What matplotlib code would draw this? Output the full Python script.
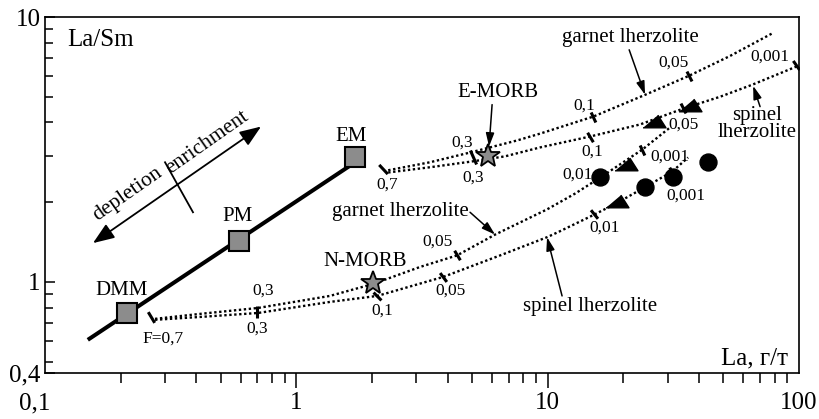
import matplotlib
matplotlib.use("Agg")
import matplotlib.pyplot as plt
import matplotlib.transforms as mtransforms
from matplotlib.ticker import FixedLocator, FixedFormatter, NullFormatter

plt.rcParams['font.family'] = ['Liberation Serif', 'DejaVu Serif']

# mantle reservoirs (La, La/Sm)
mantle_names = ["DMM", "PM", "EM"]
mantle_la = [0.212, 0.592, 1.713]
mantle_ratio = [0.765, 1.426, 2.95]
trend_la = [0.148, 1.666]
trend_ratio = [0.605, 2.78]

# MORB types
morb_names = ["E-MORB", "N-MORB"]
morb_la = [5.79, 2.02]
morb_ratio = [2.98, 0.995]

# samples
circle_la = [16.2, 24.4, 31.6, 43.5]
circle_ratio = [2.48, 2.28, 2.48, 2.83]
triangle_la = [26.5, 36.9, 20.5, 18.9]
triangle_ratio = [4.06, 4.67, 2.78, 2.02]

# melting curves, E-MORB-like source
grt_upper_la = [2.32, 3.40, 4.91, 7.55, 9.33, 15.2, 24.0, 36.5, 53.2, 78.9]
grt_upper_ratio = [2.64, 2.83, 3.08, 3.42, 3.63, 4.21, 5.05, 6.00, 7.13, 8.71]
spl_upper_la = [2.32, 3.40, 5.00, 6.77, 9.33, 14.75, 23.3, 34.6, 48.5, 65.1, 99.2]
spl_upper_ratio = [2.59, 2.71, 2.85, 2.98, 3.22, 3.54, 3.93, 4.51, 5.00, 5.55, 6.54]

# melting curves, DMM source
grt_lower_la = [0.274, 0.414, 0.704, 1.36, 2.02, 3.11, 4.36, 6.18, 9.95, 12.9, 16.2, 23.8, 30.7]
grt_lower_ratio = [0.726, 0.758, 0.798, 0.886, 0.983, 1.14, 1.26, 1.51, 1.88, 2.16, 2.48, 3.16, 3.83]
spl_lower_la = [0.274, 0.414, 0.704, 1.36, 2.10, 3.84, 6.47, 9.95, 11.2, 15.4, 19.1, 24.4, 31.3, 36.2]
spl_lower_ratio = [0.720, 0.738, 0.764, 0.841, 0.886, 1.045, 1.26, 1.476, 1.555, 1.80, 2.00, 2.28, 2.61, 2.95]

# degree-of-melting marks on the curves
mark_la = [2.21, 5.05, 15.2, 36.5, 14.75, 34.6, 97.4, 0.264, 0.698, 2.10, 4.36, 3.84, 15.3, 23.8, 31.3]
mark_ratio = [2.66, 2.95, 4.21, 6.00, 3.54, 4.55, 6.60, 0.738, 0.771, 0.886, 1.26, 1.045, 1.80, 3.16, 2.61]
mark_rot = [43, 24, 25, 27, 31, 27, 35, 31, 0, 45, 31, 37, 39, 25, 30]
mark_len = [9, 11, 8, 8, 8, 8, 8, 9, 9, 8, 8, 8, 8, 8, 8]

# labels of the marks
f_text = ["0,7", "0,3", "0,3", "0,1", "0,05", "0,001", "0,05", "0,1", "0,001", "0,01",
          "0,001", "0,01", "F=0,7", "0,3", "0,3", "0,1", "0,05", "0,05"]
f_la = [2.30, 4.57, 5.05, 13.96, 31.6, 76.7, 34.6, 15.0, 30.7, 13.2,
        35.5, 16.9, 0.295, 0.737, 0.698, 2.19, 3.63, 4.09]
f_ratio = [2.335, 3.36, 2.48, 4.63, 6.72, 7.07, 3.93, 3.11, 2.98, 2.55,
           2.12, 1.61, 0.6105, 0.925, 0.666, 0.778, 1.414, 0.925]

gray = "#8c8c8c"
dots = dict(color="k", lw=1.7, linestyle=(0, (1, 1.1)), dash_capstyle="butt", zorder=2)

fig = plt.figure(figsize=(8.19, 4.19), dpi=100)
ax = fig.add_axes([45 / 819, 46 / 419, 754 / 819, 356 / 419])
ax.set_xscale("log")
ax.set_yscale("log")
ax.set_xlim(0.1, 100)
ax.set_ylim(0.4535, 10)

for s in ax.spines.values():
    s.set_linewidth(1.2)

ax.xaxis.set_major_locator(FixedLocator([0.1, 1, 10, 100]))
ax.xaxis.set_major_formatter(FixedFormatter(["0,1", "1", "10", "100"]))
ax.xaxis.set_minor_locator(FixedLocator([k * d for d in (0.1, 1, 10) for k in range(2, 10)]))
ax.xaxis.set_minor_formatter(NullFormatter())
ax.yaxis.set_major_locator(FixedLocator([0.4535, 1, 10]))
ax.yaxis.set_major_formatter(FixedFormatter(["0,4", "1", "10"]))
ax.yaxis.set_minor_locator(FixedLocator([0.5, 0.6, 0.7, 0.8, 0.9] + list(range(2, 10))))
ax.yaxis.set_minor_formatter(NullFormatter())
ax.tick_params(axis="x", which="major", direction="out", length=11, width=1.1, labelsize=18, pad=3)
ax.tick_params(axis="x", which="minor", direction="out", length=7, width=1.1)
ax.tick_params(axis="y", which="major", direction="in", length=7, width=1.1, labelsize=18, pad=3)
ax.tick_params(axis="y", which="minor", direction="in", length=6, width=1.1)
xt = ax.xaxis.get_major_ticks()
xt[0].tick1line.set_visible(False)
xt[-1].tick1line.set_visible(False)
xt[0].label1.set_transform(xt[0].label1.get_transform()
                           + mtransforms.ScaledTranslation(-10 / 100, 0, fig.dpi_scale_trans))

# melting curves
ax.plot(grt_upper_la, grt_upper_ratio, **dots)
ax.plot(spl_upper_la, spl_upper_ratio, **dots)
ax.plot(grt_lower_la, grt_lower_ratio, **dots)
ax.plot(spl_lower_la, spl_lower_ratio, **dots)

for x, y, r, m in zip(mark_la, mark_ratio, mark_rot, mark_len):
    ax.plot([x], [y], marker=(2, 0, r), ms=m, mec="k", mew=2.2, ls="none", zorder=3)

for t, x, y in zip(f_text, f_la, f_ratio):
    ax.text(x, y, t, fontsize=12.5, ha="center", va="center", zorder=6)

# mantle trend
ax.plot(trend_la, trend_ratio, color="k", lw=2.9, solid_capstyle="butt", zorder=3)
ax.plot(mantle_la, mantle_ratio, "s", ms=14.5, mfc=gray, mec="k", mew=1.5, zorder=4)
mantle_pos = [(0.2025, 0.925), (0.586, 1.77), (1.651, 3.54)]
for n, (x, y) in zip(mantle_names, mantle_pos):
    ax.text(x, y, n, fontsize=15, ha="center", va="center")

ax.plot(morb_la, morb_ratio, "*", ms=18, mfc=gray, mec="k", mew=1.3, zorder=5)
ax.text(6.35, 5.18, morb_names[0], fontsize=15, ha="center", va="center")
ax.text(1.877, 1.20, morb_names[1], fontsize=15, ha="center", va="center")

ax.plot(circle_la, circle_ratio, "o", ms=12.2, color="k", zorder=4)
ax.plot(triangle_la, triangle_ratio, ls="none", color="k", ms=16.5, zorder=4,
        marker=[(-1, -0.55), (1, -0.55), (0.3, 0.55)])

small = dict(arrowstyle="-|>,head_length=0.8,head_width=0.25", lw=1.1, color="k",
             mutation_scale=10, shrinkA=0, shrinkB=0)


def pointer(x0, y0, x1, y1):
    ax.annotate("", xy=(x1, y1), xytext=(x0, y0), arrowprops=small, zorder=6)


pointer(6.01, 4.67, 5.845, 3.245)
pointer(21.1, 7.52, 24.4, 5.09)
pointer(70.0, 4.59, 65.7, 5.50)
pointer(4.91, 1.833, 6.175, 1.51)
pointer(11.41, 0.886, 9.945, 1.476)

ax.text(21.3, 8.34, "garnet lherzolite", fontsize=15, ha="center", va="center")
ax.text(68.2, 3.96, "spinel\nlherzolite", fontsize=15, ha="center", va="center", linespacing=0.85)
ax.text(2.59, 1.849, "garnet lherzolite", fontsize=15, ha="center", va="center")
ax.text(14.75, 0.805, "spinel lherzolite", fontsize=15, ha="center", va="center")

# depletion / enrichment arrow
ax.annotate("", xy=(0.7237, 3.86), xytext=(0.1552, 1.402),
            arrowprops=dict(arrowstyle="<|-|>,head_length=0.65,head_width=0.25", lw=1.3,
                            color="k", mutation_scale=20, shrinkA=0, shrinkB=0))
ax.plot([0.3003, 0.388], [2.83, 1.833], color="k", lw=1.3)
ax.text(0.2139, 2.142, "depletion", fontsize=15.5, rotation=35, ha="center", va="center",
        rotation_mode="anchor")
ax.text(0.4413, 3.36, "enrichment", fontsize=15.5, rotation=35, ha="center", va="center",
        rotation_mode="anchor")

ax.text(0.029, 0.935, "La/Sm", transform=ax.transAxes, fontsize=18, ha="left", va="center")
ax.text(0.985, 0.042, "La, г/т", transform=ax.transAxes, fontsize=18, ha="right", va="center")

fig.savefig("out.png", dpi=100)
